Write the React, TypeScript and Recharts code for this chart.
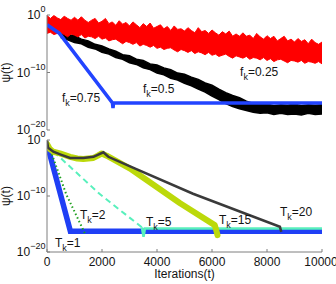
import React from 'react';
import { ComposedChart, Line, Area, XAxis, YAxis, ReferenceDot, Label } from 'recharts';

// psi(t) is stored as log10 exponents, the axes show them as powers of ten
const gridT = [
  0, 250, 500, 750, 1000, 1250, 1500, 1750, 2000, 2250, 2500, 2750, 3000, 3250,
  3500, 3750, 4000, 4250, 4500, 4750, 5000, 5250, 5500, 5750, 6000, 6250, 6500,
  6750, 7000, 7250, 7500, 7750, 8000, 8250, 8500, 8750, 9000, 9250, 9500, 9750, 10000,
];
const fineT = [
  0, 125, 250, 375, 500, 625, 750, 875, 1000, 1125, 1250, 1375, 1500, 1625, 1750, 1875,
  2000, 2125, 2250, 2375, 2500, 2625, 2750, 2875, 3000, 3125, 3250, 3375, 3500, 3625, 3750, 3875,
  4000, 4125, 4250, 4375, 4500, 4625, 4750, 4875, 5000, 5125, 5250, 5375, 5500, 5625, 5750, 5875,
  6000, 6125, 6250, 6375, 6500, 6625, 6750, 6875, 7000, 7125, 7250, 7375, 7500, 7625, 7750, 7875,
  8000, 8125, 8250, 8375, 8500, 8625, 8750, 8875, 9000, 9125, 9250, 9375, 9500, 9625, 9750, 9875,
  10000,
];

// f_k = 0.25 (noisy red band)
const redHi = [
  -0.1, -0.6, -0.1, -0.5, -0.8, -0.2, -0.6, -0.9, -0.4, -0.9, -0.3, -0.9, -1.3, -0.9, -0.6, -1.4,
  -1.1, -0.6, -1.5, -1.2, -1.8, -1.0, -1.6, -1.3, -1.9, -1.2, -1.7, -2.2, -1.5, -2.0, -1.4, -2.3,
  -2.0, -1.7, -2.4, -2.0, -2.7, -1.9, -2.5, -2.4, -2.8, -2.2, -2.7, -3.1, -2.2, -2.9, -2.7, -3.2,
  -2.6, -3.1, -3.5, -2.9, -3.3, -2.8, -3.7, -3.3, -3.7, -3.1, -3.7, -3.5, -4.1, -3.2, -3.8, -4.2,
  -3.6, -4.1, -3.7, -4.5, -4.1, -3.7, -4.5, -4.2, -4.7, -4.1, -4.6, -4.3, -5.0, -4.2, -4.8, -5.1,
  -4.7,
];
const redLo = [
  -3.2, -3.0, -3.4, -3.2, -3.1, -3.4, -3.8, -3.3, -3.5, -3.8, -3.4, -4.0, -3.7, -3.8, -4.1, -3.7,
  -4.2, -4.0, -4.5, -4.3, -4.2, -4.6, -5.0, -4.6, -4.8, -5.1, -4.8, -5.4, -5.1, -5.3, -5.6, -5.3,
  -5.8, -5.6, -6.0, -5.8, -5.7, -6.1, -6.4, -6.0, -6.2, -6.5, -6.2, -6.7, -6.4, -6.6, -6.9, -6.5,
  -7.0, -6.8, -7.2, -7.0, -6.8, -7.2, -7.5, -7.1, -7.3, -7.5, -7.2, -7.7, -7.4, -7.5, -7.8, -7.4,
  -7.9, -7.6, -8.1, -7.8, -7.7, -8.0, -8.3, -7.9, -8.0, -8.2, -7.9, -8.4, -8.1, -8.2, -8.4, -8.1,
  -8.5,
];

// f_k = 0.5 (noisy black band, from t = 500)
const blackHi = [
  -2.8, -3.4, -3.6, -4.2, -4.5, -5.1, -5.4, -5.9, -6.3, -6.9, -7.1, -7.7, -7.9, -8.5,
  -8.7, -9.2, -9.5, -10.1, -10.3, -10.8, -11.2, -11.8, -12.2, -12.9, -13.5, -14.0,
  -14.4, -15.0, -15.4, -15.6, -15.5, -15.8, -15.6, -15.7, -15.5, -15.8, -15.6, -15.7, -15.6,
];
const blackLo = [
  -3.9, -4.3, -4.8, -5.0, -5.6, -5.9, -6.5, -6.8, -7.4, -7.7, -8.3, -8.6, -9.2, -9.5,
  -10.1, -10.4, -11.0, -11.3, -11.9, -12.3, -12.9, -13.4, -14.1, -14.7, -15.4, -15.9,
  -16.3, -16.6, -16.9, -17.1, -17.0, -17.3, -17.1, -17.3, -17.2, -17.4, -17.1, -17.3, -17.2,
];

// f_k = 0.75
const f75T = [0, 450, 2380, 2400, 2420, 10000];
const f75Y = [-1.7, -3.2, -15.3, -16.2, -15.3, -15.3];

// bottom panel
const t1T = [0, 850, 10000];
const t1Y = [-0.7, -16.3, -16.3];
const t2T = [80, 700, 1380];
const t2Y = [-1.2, -9.7, -16.7];
const t5DashT = [0, 200, 1930, 3450];
const t5DashY = [-0.8, -1.9, -9.7, -15.6];
const t5SolidT = [3450, 3510, 3560, 10000];
const t5SolidY = [-15.6, -17.3, -15.8, -15.8];
const t15T = [0, 100, 230, 470, 840, 1100, 1320, 1500, 1690, 1850, 1990, 2170, 3020, 4840, 6100, 6160, 6200];
const t15Y = [-0.7, -1.6, -2.1, -2.4, -3.0, -3.3, -3.4, -3.3, -3.2, -2.8, -2.4, -2.8, -5.1, -11.3, -15.2, -16.2, -17.0];
const t20T = [0, 40, 230, 500, 840, 1320, 1690, 2050, 2230, 3020, 5310, 8470, 8520];
const t20Y = [-0.1, -1.4, -2.1, -2.6, -3.2, -3.2, -3.0, -2.2, -3.0, -4.7, -9.6, -15.5, -16.4];

const xTicks = [0, 2000, 4000, 6000, 8000, 10000];
const yTicks = [-20, -10, 0];

const pts = (xs: number[], ys: number[]) => xs.map((t, i) => ({ t, v: ys[i] }));
const redData = fineT.map((t, i) => ({ t, v: [redLo[i], redHi[i]] }));
const blackT = gridT.slice(2);
const blackData = blackT.map((t, i) => ({ t, v: [blackLo[i], blackHi[i]] }));

const AXIS = '#7f7f7f';
const INK = '#141414';

const PowTick = (props: any) => {
  const { x, y, payload } = props;
  const e = payload.value;
  return (
    <text x={x} y={y} textAnchor="end" fontSize={12} fill={INK}>
      <tspan dy={4}>10</tspan>
      <tspan dy={-7} fontSize={9}>{e === 0 ? '0' : '\u2212' + Math.abs(e)}</tspan>
    </text>
  );
};

const subText = (base: string, rest: string) => (props: any) => (
  <text x={props.cx} y={props.cy} fontSize={12} fill={INK}>
    {base}
    <tspan dy={4} fontSize={9}>k</tspan>
    <tspan dy={-4}>{rest}</tspan>
  </text>
);

const PsiLabel = (props: any) => {
  const vb = props.viewBox;
  const x = vb.x + 2.5;
  const y = vb.y + vb.height / 2;
  return (
    <text x={x} y={y} transform={`rotate(-90 ${x} ${y})`} textAnchor="middle" fontSize={12} fill={INK}>
      ψ(t)
    </text>
  );
};

const frame = (showX: boolean) => [
  <XAxis
    key="xb"
    dataKey="t"
    type="number"
    domain={[0, 10000]}
    ticks={xTicks}
    allowDataOverflow
    stroke={AXIS}
    tickSize={-3}
    tickMargin={8}
    height={showX ? 30 : 0}
    tick={showX ? { fontSize: 12, fill: INK } : false}
  >
    {showX ? <Label value="Iterations(t)" position="insideBottom" offset={4} fontSize={12} fill={INK} /> : null}
  </XAxis>,
  <XAxis
    key="xt"
    xAxisId="top"
    orientation="top"
    type="number"
    domain={[0, 10000]}
    ticks={xTicks}
    allowDataOverflow
    stroke={AXIS}
    tickSize={-3}
    height={0}
    tick={false}
  />,
  <YAxis
    key="yl"
    type="number"
    domain={[-20, 0]}
    ticks={yTicks}
    allowDataOverflow
    stroke={AXIS}
    tickSize={-3}
    tickMargin={4.5}
    width={40}
    tick={<PowTick />}
  >
    <Label content={<PsiLabel />} />
  </YAxis>,
  <YAxis
    key="yr"
    yAxisId="right"
    orientation="right"
    type="number"
    domain={[-20, 0]}
    ticks={yTicks}
    allowDataOverflow
    stroke={AXIS}
    tickSize={-3}
    width={0}
    tick={false}
  />,
];

export default function App() {
  return (
    <div
      style={{
        position: 'absolute',
        left: 0,
        top: 0,
        width: 336,
        height: 284,
        background: '#fff',
        fontFamily: '"Liberation Sans", Arial, sans-serif',
      }}
    >
      <div style={{ position: 'absolute', left: 0, top: 0 }}>
        <ComposedChart width={336} height={140} margin={{ top: 15, right: 14, bottom: 10, left: 7 }}>
          {frame(false)}
          <Area data={blackData} dataKey="v" type="linear" fill="#000" fillOpacity={1} stroke="#000" strokeWidth={1.5} isAnimationActive={false} />
          <Line data={pts(f75T, f75Y)} dataKey="v" type="linear" stroke="#2244ff" strokeWidth={3.5} dot={false} activeDot={false} isAnimationActive={false} />
          <Area data={redData} dataKey="v" type="linear" fill="#ff0000" fillOpacity={1} stroke="#ff0000" strokeWidth={1} isAnimationActive={false} />
          <ReferenceDot x={545} y={-15.1} r={0} shape={subText('f', '=0.75')} />
          <ReferenceDot x={3490} y={-13.6} r={0} shape={subText('f', '=0.5')} />
          <ReferenceDot x={7020} y={-10.6} r={0} shape={subText('f', '=0.25')} />
        </ComposedChart>
      </div>
      <div style={{ position: 'absolute', left: 0, top: 130 }}>
        <ComposedChart width={336} height={154} margin={{ top: 10, right: 14, bottom: 2, left: 7 }}>
          {frame(true)}
          <Line data={pts(t1T, t1Y)} dataKey="v" type="linear" stroke="#1f3ff5" strokeWidth={5.5} dot={false} activeDot={false} isAnimationActive={false} />
          <Line data={pts(t5SolidT, t5SolidY)} dataKey="v" type="linear" stroke="#58f0bc" strokeWidth={2.5} dot={false} activeDot={false} isAnimationActive={false} />
          <Line data={pts(t2T, t2Y)} dataKey="v" type="linear" stroke="#1ea01e" strokeWidth={2} strokeDasharray="1.5 2.5" dot={false} activeDot={false} isAnimationActive={false} />
          <Line data={pts(t5DashT, t5DashY)} dataKey="v" type="linear" stroke="#58f0bc" strokeWidth={2} strokeDasharray="6 4" dot={false} activeDot={false} isAnimationActive={false} />
          <Line data={pts(t15T, t15Y)} dataKey="v" type="linear" stroke="#bcd90a" strokeWidth={6} strokeLinecap="round" strokeLinejoin="round" dot={false} activeDot={false} isAnimationActive={false} />
          <Line data={pts(t20T, t20Y)} dataKey="v" type="linear" stroke="#3a3a3a" strokeWidth={2.5} dot={false} activeDot={false} isAnimationActive={false} />
          <ReferenceDot x={290} y={-19.1} r={0} shape={subText('T', '=1')} />
          <ReferenceDot x={1200} y={-14.1} r={0} shape={subText('T', '=2')} />
          <ReferenceDot x={3600} y={-15.4} r={0} shape={subText('T', '=5')} />
          <ReferenceDot x={6250} y={-15} r={0} shape={subText('T', '=15')} />
          <ReferenceDot x={8470} y={-13.6} r={0} shape={subText('T', '=20')} />
        </ComposedChart>
      </div>
    </div>
  );
}
